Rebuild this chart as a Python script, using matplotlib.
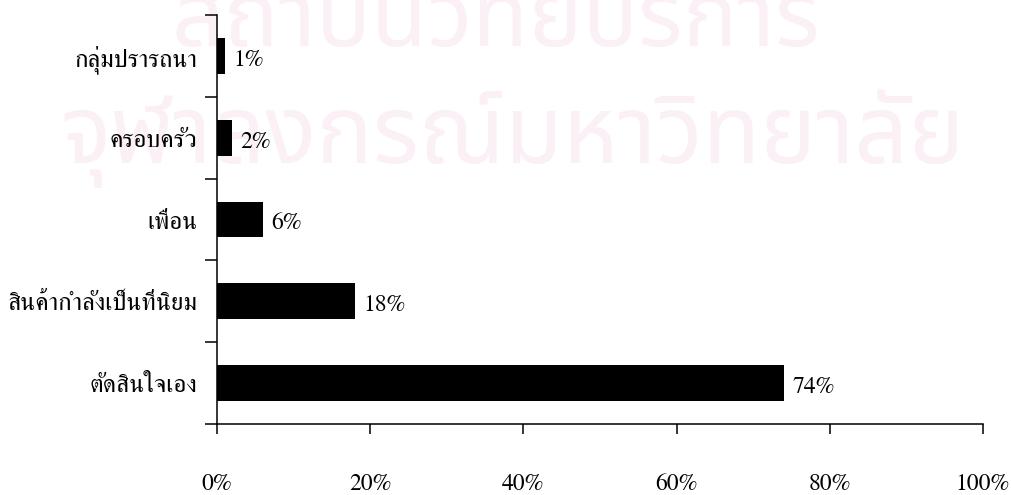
import matplotlib
matplotlib.use("Agg")
import matplotlib.pyplot as plt
from matplotlib.ticker import FixedLocator, NullFormatter

# data, bottom to top
categories = ["ตัดสินใจเอง", "สินค้ากำลังเป็นที่นิยม", "เพื่อน", "ครอบครัว", "กลุ่มปรารถนา"]
percent = [74, 18, 6, 2, 1]
xticks = [0, 20, 40, 60, 80, 100]

serif = ["FreeSerif", "DejaVu Serif"]
plt.rcParams["font.family"] = serif

fig = plt.figure(figsize=(10.12, 4.95), dpi=100)

# faint watermark behind everything
wm = dict(family=["Noto Sans Thai", "DejaVu Sans"], color="#faf0f5", zorder=0,
          ha="left", va="baseline")
fig.text(172 / 1012, 1 - 46 / 495, "สถาบันวิทยบริการ", fontsize=66, **wm)
fig.text(60 / 1012, 1 - 163 / 495, "จุฬาลงกรณ์มหาวิทยาลัย", fontsize=68, **wm)

ax = fig.add_axes([217 / 1012, 1 - 424 / 495, (983 - 217) / 1012, (424 - 15) / 495])
ax.set_zorder(1)
ax.patch.set_alpha(0)

y = range(len(categories))
ax.barh(y, percent, height=0.44, color="black")
for yi, v in zip(y, percent):
    ax.annotate(f"{v}%", (v, yi), xytext=(6, -3), textcoords="offset points",
                va="center", ha="left", fontsize=17)

ax.set_xlim(0, 100)
ax.set_ylim(-0.5, len(categories) - 0.5)
ax.set_xticks(xticks)
ax.set_xticklabels([f"{t}%" for t in xticks])
ax.set_yticks(list(y))
ax.set_yticklabels(categories)
ax.yaxis.set_minor_locator(FixedLocator([i - 0.5 for i in range(len(categories) + 1)]))
ax.yaxis.set_minor_formatter(NullFormatter())

ax.tick_params(axis="y", which="major", length=0, pad=14, labelsize=18)
ax.tick_params(axis="y", which="minor", length=9, width=1.1, direction="out")
ax.tick_params(axis="x", length=7.5, width=1.1, direction="out", pad=28, labelsize=17)

for s in ["top", "right"]:
    ax.spines[s].set_visible(False)
for s in ["left", "bottom"]:
    ax.spines[s].set_linewidth(1.1)

fig.savefig("out.png", dpi=100)
